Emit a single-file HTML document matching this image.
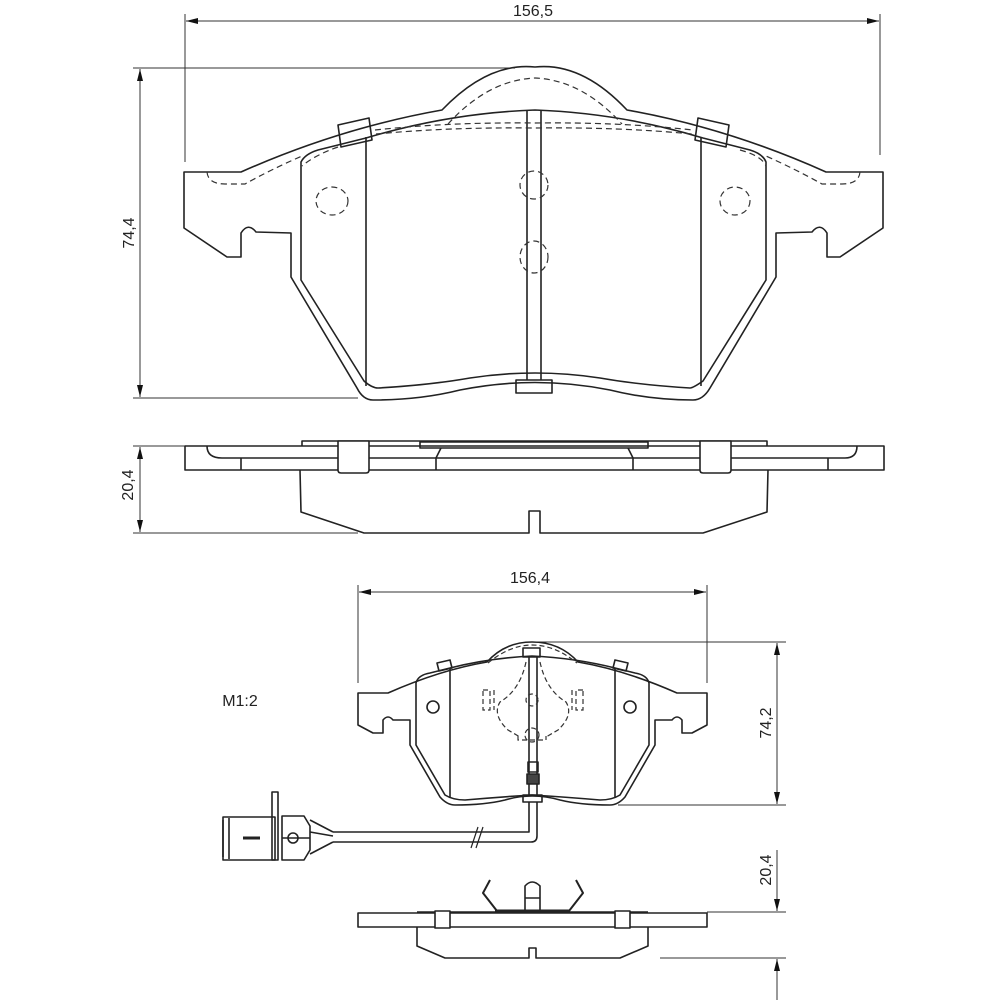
<!DOCTYPE html>
<html><head><meta charset="utf-8"><style>
html,body{margin:0;padding:0;background:#fff;}
svg{display:block;}
text{font-family:"Liberation Sans",sans-serif;fill:#222;}
</style></head><body>
<svg width="1000" height="1000" viewBox="0 0 1000 1000" xmlns="http://www.w3.org/2000/svg">
<defs>
<marker id="a" viewBox="0 0 12 6" refX="12" refY="3" markerWidth="12" markerHeight="6" orient="auto-start-reverse" markerUnits="userSpaceOnUse"><path d="M0,0L12,3L0,6z" fill="#111"/></marker>
</defs>
<g fill="none" stroke="#333" stroke-width="1">
<line x1="185" y1="14" x2="185" y2="162"/><line x1="880" y1="14" x2="880" y2="155"/>
<line x1="186" y1="21" x2="879" y2="21" marker-start="url(#a)" marker-end="url(#a)"/>
<line x1="133" y1="68" x2="515" y2="68"/><line x1="133" y1="398" x2="358" y2="398"/>
<line x1="140" y1="69" x2="140" y2="397" marker-start="url(#a)" marker-end="url(#a)"/>
<line x1="133" y1="446" x2="290" y2="446"/><line x1="133" y1="533" x2="358" y2="533"/>
<line x1="140" y1="447" x2="140" y2="532" marker-start="url(#a)" marker-end="url(#a)"/>
<line x1="358" y1="585" x2="358" y2="683"/><line x1="707" y1="585" x2="707" y2="683"/>
<line x1="359" y1="592" x2="706" y2="592" marker-start="url(#a)" marker-end="url(#a)"/>
<line x1="535" y1="642" x2="786" y2="642"/><line x1="618" y1="805" x2="786" y2="805"/>
<line x1="777" y1="643" x2="777" y2="804" marker-start="url(#a)" marker-end="url(#a)"/>
<line x1="777" y1="850" x2="777" y2="911" marker-end="url(#a)"/>
<line x1="707" y1="912" x2="786" y2="912"/><line x1="660" y1="958" x2="786" y2="958"/>
<line x1="777" y1="1000" x2="777" y2="959" marker-end="url(#a)"/>
</g>
<text x="533" y="16" font-size="16" text-anchor="middle">156,5</text>
<text transform="translate(134,233) rotate(-90)" font-size="16" text-anchor="middle">74,4</text>
<text transform="translate(133,485) rotate(-90)" font-size="16" text-anchor="middle">20,4</text>
<text x="530" y="583" font-size="16" text-anchor="middle">156,4</text>
<text transform="translate(771,723) rotate(-90)" font-size="16" text-anchor="middle">74,2</text>
<text transform="translate(771,870) rotate(-90)" font-size="16" text-anchor="middle">20,4</text>
<text x="240" y="706" font-size="16" text-anchor="middle">M1:2</text>

<!-- TOP PAD -->
<g fill="none" stroke="#222" stroke-width="1.6" stroke-linejoin="round">
<path d="M184,172 L241,172 Q340,128 442,110 Q488,62 535,67 Q582,62 627,110 Q728,128 826,172 L883,172 L883,228 L840,257 L827,257 L827,233 Q820,222 812,232 L776,233 L776,277 L710,388 Q703,400 693,400 Q650,400 610,390 Q535,375 460,390 Q420,400 373,400 Q363,400 357,388 L291,277 L291,233 L256,232 Q248,222 241,233 L241,257 L227,257 L184,228 Z"/>
<path d="M301,162 Q305,154 318,150 L366,138 Q450,113 535,110 Q620,113 703,138 L750,150 Q763,154 766,162 L766,280 L703,381 Q693,388 690,388 Q640,385 600,378 Q535,368 470,378 Q430,385 378,388 Q372,388 364,381 L301,280 Z"/>
<line x1="366" y1="137" x2="366" y2="386"/><line x1="701" y1="137" x2="701" y2="386"/>
<path d="M527,110 L527,380 M541,110 L541,380"/>
<rect x="516" y="380" width="36" height="13"/>
<path d="M338,125 L369,118 L372,140 L341,147 Z"/>
<path d="M698,118 L729,125 L726,147 L695,140 Z"/>
</g>
<g fill="none" stroke="#333" stroke-width="1.2" stroke-dasharray="6,4">
<path d="M448,124 Q488,80 535,78 Q582,80 622,124"/>
<path d="M375,130 Q450,122 535,123 Q620,122 693,130"/>
<path d="M376,134 Q450,127 535,128 Q620,127 692,134"/>
<path d="M338,147 Q315,155 302,166 M740,150 Q762,156 766,166"/>
<path d="M207,172 Q208,184 225,184 L245,184 Q270,170 302,156"/>
<path d="M860,172 Q859,184 842,184 L822,184 Q797,170 766,156"/>
<ellipse cx="332" cy="201" rx="16" ry="14"/><ellipse cx="735" cy="201" rx="15" ry="14"/>
<ellipse cx="534" cy="185" rx="14" ry="14"/><ellipse cx="534" cy="257" rx="14" ry="16"/>
</g>

<!-- SIDE VIEW -->
<g fill="none" stroke="#222" stroke-width="1.6" stroke-linejoin="round">
<rect x="185" y="446" width="699" height="24"/>
<path d="M302,446 L302,441 L767,441 L767,446"/>
<path d="M420,446 L420,442 L648,442 L648,448 L420,448 Z"/>
<path d="M207,446 Q207,458 222,458 L845,458 Q857,458 857,446"/>
<line x1="241" y1="458" x2="241" y2="470"/><line x1="828" y1="458" x2="828" y2="470"/>
<path d="M436,470 L436,458 L441,448 M633,470 L633,458 L628,448"/>
<path d="M338,441 L369,441 L369,470 Q369,473 366,473 L341,473 Q338,473 338,470 Z" fill="#fff"/>
<path d="M700,441 L731,441 L731,470 Q731,473 728,473 L703,473 Q700,473 700,470 Z" fill="#fff"/>
<path d="M300,470 L301,512 L364,533 L529,533 L529,511 L540,511 L540,533 L703,533 L767,512 L768,470"/>
</g>

<!-- BOTTOM PAD -->
<g fill="none" stroke="#222" stroke-width="1.6" stroke-linejoin="round">
<path d="M358,693 L388,693 Q440,670 487,662 Q505,642 532,642 Q560,642 578,662 Q625,670 677,693 L707,693 L707,725 L692,733 L682,733 L682,720 Q677,714 672,720 L655,720 L655,745 L625,797 Q618,805 610,805 Q580,805 560,800 Q532,792 505,800 Q485,805 455,805 Q447,805 440,797 L410,745 L410,720 L393,720 Q388,714 383,720 L383,733 L373,733 L358,725 Z"/>
<path d="M416,745 L416,683 Q418,675 430,673 L450,668 Q490,658 532,656 Q575,658 615,668 L635,673 Q647,675 649,683 L649,745 L620,795 Q612,800 600,800 Q565,797 532,795 Q500,797 465,800 Q453,800 445,795 Z"/>
<line x1="450" y1="668" x2="450" y2="798"/><line x1="615" y1="668" x2="615" y2="798"/>
<path d="M529,656 L529,795 M537,656 L537,795"/>
<rect x="523" y="648" width="17" height="9"/>
<circle cx="433" cy="707" r="6"/><circle cx="630" cy="707" r="6"/>
<rect x="528" y="762" width="10" height="10"/><rect x="527" y="774" width="12" height="10" fill="#444"/>
<rect x="523" y="795" width="19" height="7"/>
<path d="M437,663 L450,660 L452,668 L439,671 Z M615,660 L628,663 L626,671 L613,668 Z"/>
<path d="M529,802 L529,832 L333,832 M537,802 L537,836 Q537,842 531,842 L333,842"/>
<path d="M471,848 L478,827 M476,848 L483,827" stroke-width="1.2"/>
<path d="M310,820 L333,832 M310,854 L333,842 M310,832 L333,836"/>
<rect x="223" y="817" width="52" height="43"/>
<path d="M223,820 L223,857 M229,818 L229,859"/>
<line x1="243" y1="838" x2="260" y2="838" stroke-width="3"/>
<path d="M272,792 L278,792 L278,860 L272,860 Z"/>
<path d="M282,816 L304,816 L310,826 L310,850 L304,860 L282,860 Z"/>
<line x1="282" y1="838" x2="310" y2="838"/>
<circle cx="293" cy="838" r="5"/>
</g>
<g fill="none" stroke="#333" stroke-width="1.2" stroke-dasharray="5,3">
<path d="M488,663 Q510,645 532,645 Q555,645 577,663"/>
<path d="M526,662 Q520,690 500,702 Q492,715 508,730 L520,737 M540,662 Q546,690 566,702 Q574,715 558,730 L546,737"/>
<circle cx="532" cy="700" r="6"/><circle cx="532" cy="735" r="7"/>
<path d="M518,736 L518,740 L546,740 L546,736"/>
<path d="M483,690 L490,690 L490,710 L483,710 Z M494,690 L494,710 M583,690 L576,690 L576,710 L583,710 Z M572,690 L572,710"/>
<path d="M416,690 L416,740 M649,690 L649,740"/>
</g>

<!-- BOTTOM SIDE VIEW -->
<g fill="none" stroke="#222" stroke-width="2" stroke-linejoin="round">
<path d="M490,880 L483,893 L497,911"/>
<path d="M576,880 L583,893 L569,911"/>
</g>
<g fill="none" stroke="#222" stroke-width="1.6" stroke-linejoin="round">
<path d="M525,912 L525,886 Q532,878 540,886 L540,912 M525,898 L540,898"/>
<path d="M417,912 L648,912"/><line x1="495" y1="911" x2="570" y2="911" stroke-width="3"/>
<rect x="358" y="913" width="349" height="14"/>
<rect x="435" y="911" width="15" height="17" fill="#fff"/><rect x="615" y="911" width="15" height="17" fill="#fff"/>
<path d="M417,927 L417,946 L445,958 L529,958 L529,948 L536,948 L536,958 L620,958 L648,946 L648,927"/>
</g>
</svg>
</body></html>
